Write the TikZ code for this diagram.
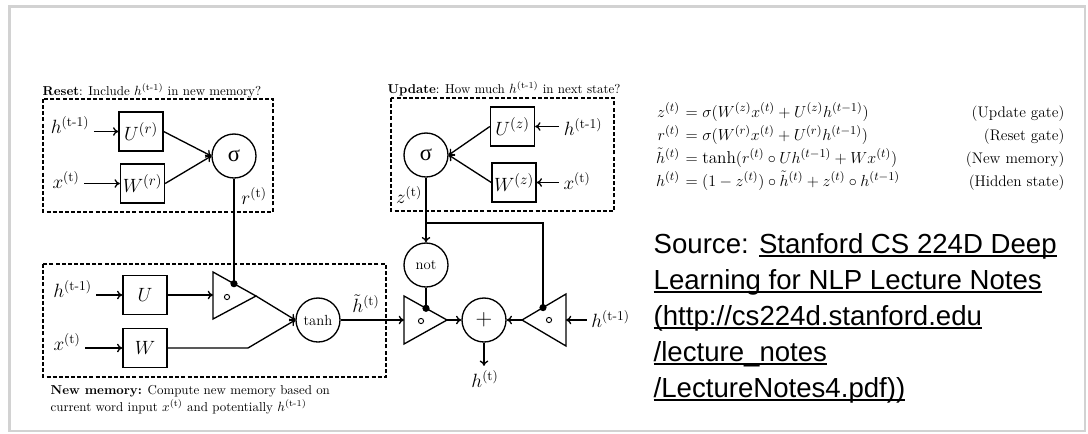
\documentclass[tikz,border=0pt]{standalone}
\usepackage{amsmath}
\usepackage{fontspec}
\newfontfamily\srcsans{Liberation Sans}
\newfontfamily\greekserif{Liberation Serif}
\usetikzlibrary{arrows.meta}
% underline a piece of the source reference at a fixed depth
\newcommand\srcul[1]{\setbox0\hbox{#1}\rlap{\rule[-2.8pt]{\wd0}{1.1pt}}\box0}
\newcommand\hprev{h^{(\text{t-1})}}
\begin{document}
\begin{tikzpicture}[x=0.75pt, y=-0.75pt, line width=1pt,
  arr/.style={-{To[length=4pt,width=6.5pt]}},
  gbox/.style={draw, minimum width=33pt, minimum height=29.25pt, inner sep=0pt,
    font=\fontsize{15}{18}\selectfont},
  gcirc/.style={draw, circle, minimum size=33pt, inner sep=0pt},
  lbl/.style={inner sep=3pt, font=\fontsize{14.5}{17}\selectfont},
  ttl/.style={inner sep=0pt, font=\fontsize{9.7}{12}\selectfont},
  dbox/.style={line width=0.8pt, dash pattern=on 3pt off 1.6pt},
  eqn/.style={inner sep=0pt, font=\fontsize{12.9}{15}\selectfont},
  eqname/.style={inner sep=0pt, anchor=base east, font=\fontsize{11.5}{14}\selectfont},
  src/.style={inner sep=0pt, anchor=base west, font=\srcsans\fontsize{20.7}{25}\selectfont},
  tri/.style={line width=1pt, line join=miter},
  hadamard/.style={line width=0.7pt}]

\useasboundingbox (0,0) rectangle (1088,433);
\draw[gray!35, line width=2pt] (9.5,6.5) rectangle (1085,431);

% ---------------- reset gate ----------------
\node[ttl, anchor=base west] (treset) at (42,95)
  {\textbf{Reset}: Include $\hprev$ in new memory?};
\draw[dbox] (43,99) rectangle (273,212);
\node[gbox] (ur) at (141,131.5) {$U^{(r)}$};
\node[gbox] (wr) at (142.5,183.5) {$W^{(r)}$};
\node[gcirc, font=\greekserif\fontsize{17}{20}\selectfont] (sigr) at (234,156) {σ};
\node[lbl, anchor=base] (hr) at (70,133) {$\hprev$};
\node[lbl, anchor=base] (xr) at (66,188) {$x^{(\text{t})}$};
\node[lbl] (rl) at (254,196) {$r^{(\text{t})}$};
\draw[arr] (hr.east |- ur.west) -- (ur.west);
\draw[arr] (xr.east |- wr.west) -- (wr.west);
\draw[arr] (ur.east) -- (sigr.west);
\draw[arr] (wr.east) -- (sigr.west);

% ---------------- update gate ----------------
\node[ttl, anchor=base west] (tupdate) at (387,93)
  {\textbf{Update}: How much $\hprev$ in next state?};
\draw[dbox] (391,98) rectangle (614,211);
\node[gbox] (uz) at (512.5,126.5) {$U^{(z)}$};
\node[gbox] (wz) at (514,182.5) {$W^{(z)}$};
\node[gcirc, font=\greekserif\fontsize{17}{20}\selectfont] (sigz) at (426,155) {σ};
\node[lbl, anchor=base] (hz) at (583,135) {$\hprev$};
\node[lbl, anchor=base] (xz) at (577,189) {$x^{(\text{t})}$};
\node[lbl] (zl) at (409,195) {$z^{(\text{t})}$};
\draw[arr] (hz.west |- uz.east) -- (uz.east);
\draw[arr] (xz.west |- wz.east) -- (wz.east);
\draw[arr] (uz.west) -- (sigz.east);
\draw[arr] (wz.west) -- (sigz.east);

% ---------------- new memory ----------------
\draw[dbox] (43,264) rectangle (386,377);
\node[ttl, anchor=base west] (tnew1) at (50,394)
  {\textbf{New memory:} Compute new memory based on};
\node[ttl, anchor=base west] (tnew2) at (50,411)
  {current word input $x^{(\text{t})}$ and potentially $\hprev$};
\node[gbox] (un) at (145,295) {$U$};
\node[gbox] (wn) at (145,348) {$W$};
\node[lbl, anchor=base] (hn) at (72.5,297) {$\hprev$};
\node[lbl, anchor=base] (xn) at (67,350) {$x^{(\text{t})}$};
\draw[arr] (hn.east |- un.west) -- (un.west);
\draw[arr] (xn.east |- wn.west) -- (wn.west);

% reset multiplication
\coordinate (m1a) at (213,272);
\coordinate (m1b) at (213,319);
\coordinate (m1t) at (256,296);
\coordinate (m1in) at (213,295);
\coordinate (m1dot) at (234,283.7);
\draw[tri] (m1a) -- (m1t) -- (m1b) -- cycle;
\draw[hadamard] (227,297) circle (2.6);
\draw[arr] (un.east) -- (m1in);
\draw (sigr.south) -- (m1dot);
\fill (m1dot) circle (3.6);

\node[gcirc, font=\fontsize{11}{13}\selectfont] (tanh) at (318,320) {tanh};
\coordinate (wbend) at (248,348);
\draw[arr] (m1t) -- (tanh.west);
\draw[arr] (wn.east) -- (wbend) -- (tanh.west);
\node[lbl] (ht) at (366,304) {$\tilde h^{(\text{t})}$};

% ---------------- hidden state ----------------
\node[gcirc, font=\fontsize{11}{13}\selectfont] (not) at (426,265) {not};
\coordinate (brl) at (426,223);
\coordinate (brr) at (543,223);
\draw[arr] (sigz.south) -- (not.north);

\coordinate (m2a) at (404,296);
\coordinate (m2b) at (404,344);
\coordinate (m2t) at (447,320);
\coordinate (m2in) at (404,320);
\coordinate (m2dot) at (426,308.3);
\draw[tri] (m2a) -- (m2t) -- (m2b) -- cycle;
\draw[hadamard] (421,321) circle (2.6);
\draw (not.south) -- (m2dot);
\fill (m2dot) circle (3.6);

\coordinate (m3a) at (566,294);
\coordinate (m3b) at (566,346);
\coordinate (m3t) at (522,320);
\coordinate (m3in) at (566,320);
\coordinate (m3dot) at (543,307.6);
\draw[tri] (m3a) -- (m3t) -- (m3b) -- cycle;
\draw[hadamard] (549,320) circle (2.6);
\draw (brl) -- (brr) -- (m3dot);
\fill (m3dot) circle (3.6);

\node[gcirc, font=\fontsize{16}{18}\selectfont] (plus) at (484,320) {$+$};
\draw[arr] (tanh.east) -- (m2in);
\draw[arr] (m2t) -- (plus.west);
\draw[arr] (m3t) -- (plus.east);
\node[lbl, anchor=base] (hm) at (610.5,327) {$\hprev$};
\draw[arr] (hm.west |- m3in) -- (m3in);
\node[lbl] (hout) at (485,379) {$h^{(\text{t})}$};
\draw[arr] (plus.south) -- (plus.south |- hout.north);

% ---------------- equations ----------------
\node[eqn, anchor=base east] (e1l) at (680.5,117) {$z^{(t)}$};
\node[eqn, anchor=base west] (e1r) at (680.5,117) {${}= \sigma(W^{(z)}x^{(t)} + U^{(z)}h^{(t-1)})$};
\node[eqname] (e1n) at (1065,117) {(Update gate)};
\node[eqn, anchor=base east] (e2l) at (680.5,140) {$r^{(t)}$};
\node[eqn, anchor=base west] (e2r) at (680.5,140) {${}= \sigma(W^{(r)}x^{(t)} + U^{(r)}h^{(t-1)})$};
\node[eqname] (e2n) at (1065,140) {(Reset gate)};
\node[eqn, anchor=base east] (e3l) at (680.5,163) {$\tilde h^{(t)}$};
\node[eqn, anchor=base west] (e3r) at (680.5,163) {${}= \tanh(r^{(t)}\circ Uh^{(t-1)} + Wx^{(t)})$};
\node[eqname] (e3n) at (1065,163) {(New memory)};
\node[eqn, anchor=base east] (e4l) at (680.5,186) {$h^{(t)}$};
\node[eqn, anchor=base west] (e4r) at (680.5,186) {${}= (1-z^{(t)})\circ \tilde h^{(t)} + z^{(t)}\circ h^{(t-1)}$};
\node[eqname] (e4n) at (1065,186) {(Hidden state)};

% ---------------- source ----------------
\node[src] (s1) at (653,253) {Source: \srcul{Stanford CS 224D Deep}};
\node[src] (s2) at (653,289) {\srcul{Learning for NLP Lecture Notes}};
\node[src] (s3) at (653,325) {\srcul{(http://cs224d.stanford.edu}};
\node[src] (s4) at (653,361) {\srcul{/lecture\_notes}};
\node[src] (s5) at (653,397) {\srcul{/LectureNotes4.pdf))}};
\end{tikzpicture}
\end{document}
